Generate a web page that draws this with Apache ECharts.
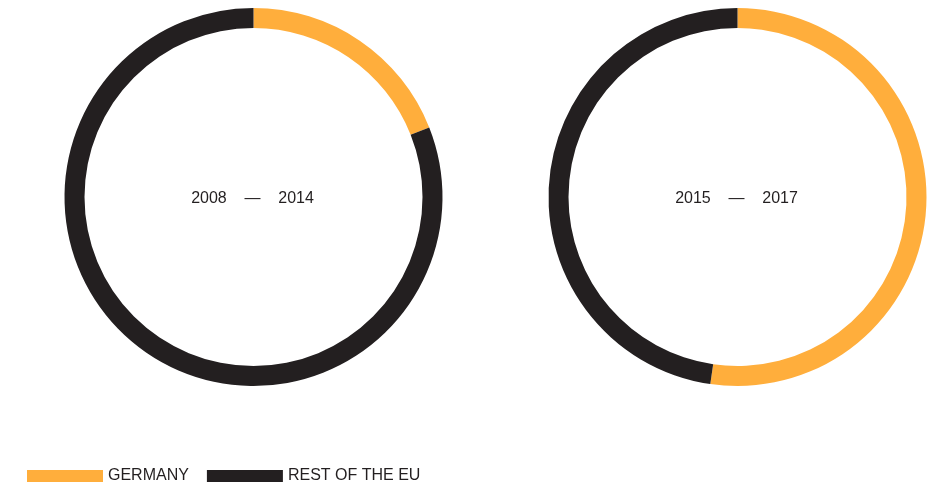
<!DOCTYPE html>
<html>
<head>
<meta charset="utf-8">
<script src="https://cdn.jsdelivr.net/npm/echarts@6/dist/echarts.min.js"></script>
<style>
  html, body { margin: 0; padding: 0; background: #fff; }
  #chart { width: 938px; height: 486px; }
</style>
</head>
<body>
<div id="chart"></div>
<script>
var periods = ['2008    \u2014    2014', '2015    \u2014    2017'];
var regions = ['GERMANY', 'REST OF THE EU'];
var germanyShare = [19, 52.3];
var restShare = [81, 47.7];
var colors = ['#FFAE3C', '#231F20'];
var centersX = [253.5, 737.5];

var chart = echarts.init(document.getElementById('chart'));

var series = periods.map(function (p, i) {
    return {
        name: p,
        type: 'pie',
        center: [centersX[i], 197],
        radius: [169, 189],
        startAngle: 90,
        clockwise: true,
        silent: true,
        label: { show: false },
        labelLine: { show: false },
        itemStyle: { borderWidth: 0 },
        data: [
            { name: regions[0], value: germanyShare[i] },
            { name: regions[1], value: restShare[i] }
        ]
    };
});

var titles = periods.map(function (p, i) {
    return {
        text: p,
        left: centersX[i] - 1,
        top: 199,
        padding: 0,
        textAlign: 'center',
        textVerticalAlign: 'middle',
        textStyle: {
            fontFamily: 'Liberation Sans, Arial, sans-serif',
            fontSize: 16,
            fontWeight: 'normal',
            color: '#231F20'
        }
    };
});

var option = {
    animation: false,
    color: colors,
    title: titles,
    legend: {
        data: regions,
        left: 22,
        top: 463,
        icon: 'rect',
        itemWidth: 76,
        itemHeight: 12,
        itemGap: 18,
        textStyle: {
            fontFamily: 'Liberation Sans, Arial, sans-serif',
            fontSize: 16,
            color: '#231F20'
        }
    },
    series: series
};
chart.setOption(option);
</script>
</body>
</html>
